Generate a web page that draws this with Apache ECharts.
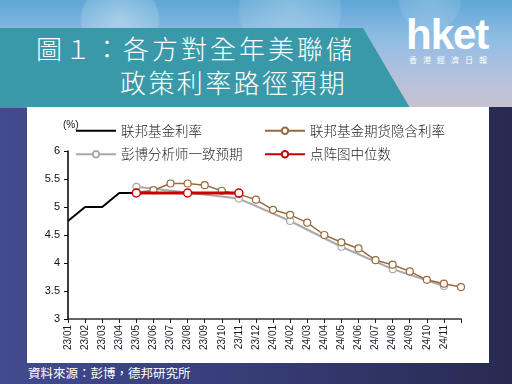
<!DOCTYPE html>
<html><head><meta charset="utf-8">
<script src="https://cdn.jsdelivr.net/npm/echarts@6/dist/echarts.min.js"></script>
<style>
html,body{margin:0;padding:0;width:512px;height:384px;overflow:hidden;}
#bg{position:absolute;left:0;top:0;width:512px;height:384px;
 background:linear-gradient(90deg,#434b8f 0%,#363c76 50%,#272a50 100%);}
#sky{position:absolute;left:0;top:0;width:512px;height:107px;
 background:
  radial-gradient(circle at 120px 20px, rgba(255,255,255,0.35) 0, rgba(255,255,255,0.15) 38px, rgba(255,255,255,0) 40px),
  radial-gradient(circle at 290px 10px, rgba(255,255,255,0.25) 0, rgba(255,255,255,0.1) 50px, rgba(255,255,255,0) 52px),
  radial-gradient(circle at 430px 0px, rgba(255,255,255,0.2) 0, rgba(255,255,255,0.1) 30px, rgba(255,255,255,0) 32px),
  linear-gradient(180deg,#5ea6d6 0%,#8fbde4 35%,#b3c1de 70%,#c7c2cf 100%);}
#banner{position:absolute;left:0;top:28px;width:410px;height:80px;background:#3a99a8;
 clip-path:polygon(0 0,363px 0,410px 80px,0 80px);}
.t{position:absolute;color:#fff;font-family:"Noto Sans CJK TC","Noto Sans CJK SC",sans-serif;white-space:nowrap;}
#t1{left:36px;top:33px;font-size:26px;letter-spacing:3px;line-height:30px;font-weight:300;}
#t2{left:120px;top:67px;font-size:26px;letter-spacing:2.4px;line-height:30px;font-weight:300;}
#logo{position:absolute;left:406px;top:13px;color:#fff;font-family:"Liberation Sans",Arial,sans-serif;font-weight:bold;font-size:42px;letter-spacing:-1px;line-height:44px;}
#logo2{position:absolute;left:409px;top:55px;color:#fff;font-family:"Noto Sans CJK TC",sans-serif;font-size:8px;letter-spacing:6px;line-height:10px;}
#chart{position:absolute;left:27px;top:107px;width:462px;height:256px;background:#fff;}
#src{position:absolute;left:28px;top:365px;font-size:12.5px;line-height:16px;color:#fff;font-family:"Noto Sans CJK TC",sans-serif;}
</style></head>
<body>
<div id="bg"></div><div id="sky"></div><div id="banner"></div>
<div class="t" id="t1">圖１：各方對全年美聯儲</div>
<div class="t" id="t2">政策利率路徑預期</div>
<div id="logo">hket</div>
<div id="logo2">香港經濟日報</div>
<div id="chart"></div>
<div class="t" id="src">資料來源：彭博，德邦研究所</div>
<script>
const categories = ['23/01','23/02','23/03','23/04','23/05','23/06','23/07','23/08','23/09','23/10','23/11','23/12',
 '24/01','24/02','24/03','24/04','24/05','24/06','24/07','24/08','24/09','24/10','24/11','24/12'];
const xLabels = ['23/01','23/02','23/03','23/04','23/05','23/06','23/07','23/08','23/09','23/10','23/11','23/12',
 '24/01','24/02','24/03','24/04','24/05','24/06','24/07','24/08','24/09','24/10','24/11',''];
const fedRate = [4.75,5.0,5.0,5.25,5.25,null,null,null,null,null,null,null,null,null,null,null,null,null,null,null,null,null,null,null];
const futures = [null,null,null,null,5.26,5.30,5.42,5.42,5.39,5.29,5.23,5.13,4.95,4.86,4.72,4.50,4.37,4.26,4.05,3.97,3.85,3.70,3.63,3.57];
const consensus = [null,null,null,null,5.36,null,null,null,null,null,5.15,null,null,4.75,null,null,4.29,null,null,3.89,null,null,3.59,null];
const dotPlot = [null,null,null,null,5.25,null,null,5.25,null,null,5.25,null,null,null,null,null,null,null,null,null,null,null,null,null];
const yTicks = {min:3,max:6,interval:0.5};
const names = ['联邦基金利率','联邦基金期货隐含利率','彭博分析师一致预期','点阵图中位数'];

const chart = echarts.init(document.getElementById('chart'));
const legText = {fontFamily:'"Noto Sans CJK SC",sans-serif',fontSize:13.5,color:'#222',fontWeight:300};
chart.setOption({
  animation:false,
  grid:{left:41,right:28,top:44,bottom:44},
  legend:[
    {data:[{name:names[0],itemStyle:{opacity:0}},names[2]],orient:'vertical',left:43,top:12,itemWidth:40,itemHeight:8,itemGap:10,textStyle:legText},
    {data:[names[1],names[3]],orient:'vertical',left:232,top:12,itemWidth:40,itemHeight:8,itemGap:10,textStyle:legText}
  ],
  graphic:[{type:'text',left:36,top:13,style:{text:'(%)',font:'10px "Liberation Sans",Arial',fill:'#111'}}],
  xAxis:{type:'category',data:categories,boundaryGap:false,
    axisLine:{lineStyle:{color:'#333',width:1.5}},
    axisTick:{show:true,length:4,interval:0,lineStyle:{color:'#222'}},
    axisLabel:{interval:0,rotate:90,fontSize:10,color:'#1a1a2a',fontFamily:'"Liberation Sans",Arial',margin:6,
      formatter:(v,i)=>xLabels[i]}},
  yAxis:{type:'value',min:yTicks.min,max:yTicks.max,interval:yTicks.interval,
    splitLine:{show:false},
    axisLine:{show:true,lineStyle:{color:'#000',width:1.5}},
    axisTick:{show:true,length:4,lineStyle:{color:'#000'}},
    axisLabel:{fontSize:11,color:'#111',fontFamily:'"Liberation Sans",Arial',margin:8}},
  series:[
    {name:names[0],type:'line',data:fedRate,showSymbol:false,symbol:'none',lineStyle:{color:'#000',width:2},itemStyle:{color:'#000'},z:2},
    {name:names[2],type:'line',data:consensus,connectNulls:true,symbol:'circle',symbolSize:7,
      lineStyle:{color:'#a9a9a9',width:2},itemStyle:{color:'#fff',borderColor:'#a9a9a9',borderWidth:1.2},z:3},
    {name:names[1],type:'line',data:futures,symbol:'circle',symbolSize:7,
      lineStyle:{color:'#9a6a3c',width:1.5},itemStyle:{color:'#fff',borderColor:'#9a6a3c',borderWidth:1.2},z:4},
    {name:names[3],type:'line',data:dotPlot,connectNulls:true,symbol:'circle',symbolSize:8,
      lineStyle:{color:'#cc0000',width:3},itemStyle:{color:'#fff',borderColor:'#cc0000',borderWidth:1.5},z:5}
  ]
});
</script>
</body></html>
